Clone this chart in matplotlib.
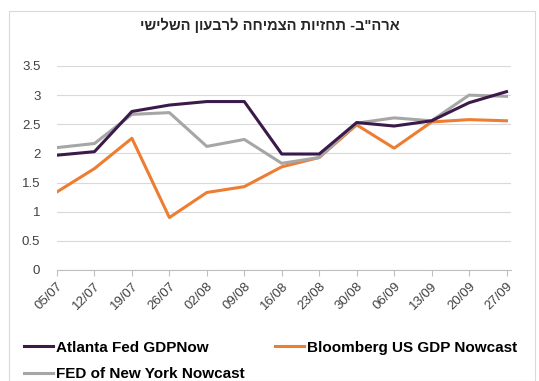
import numpy as np
import matplotlib
matplotlib.use('Agg')
import matplotlib.pyplot as plt
from matplotlib.patches import Rectangle

plt.rcParams['font.family'] = ['Liberation Sans', 'DejaVu Sans']

# datos
fechas = ['05/07', '12/07', '19/07', '26/07', '02/08', '09/08', '16/08',
          '23/08', '30/08', '06/09', '13/09', '20/09', '27/09']
atlanta = [1.97, 2.03, 2.72, 2.83, 2.89, 2.89, 1.99, 1.99, 2.53, 2.47, 2.56, 2.87, 3.06]
bloomberg = [1.34, 1.74, 2.26, 0.90, 1.33, 1.43, 1.77, 1.93, 2.49, 2.09, 2.54, 2.58, 2.56]
nyfed = [2.10, 2.17, 2.67, 2.70, 2.12, 2.24, 1.83, 1.93, 2.52, 2.61, 2.56, 3.00, 2.98]
titulo = 'ארה"ב- תחזיות הצמיחה לרבעון השלישי'

fig = plt.figure(figsize=(5.39, 3.81), dpi=100)
# marco gris del grafico
fig.patches.append(Rectangle((9 / 539, 0), 526 / 539, 1 - 11 / 381, transform=fig.transFigure,
                             fill=False, edgecolor='#d9d9d9', linewidth=0.8))

ax = fig.add_axes([57 / 539, 1 - 270 / 381, 454 / 539, 204 / 381])
x = np.arange(len(fechas))
l2, = ax.plot(x, bloomberg, color='#ed7d31', lw=2.2, label='Bloomberg US GDP Nowcast')
l3, = ax.plot(x, nyfed, color='#a6a6a6', lw=2.2, label='FED of New York Nowcast')
l1, = ax.plot(x, atlanta, color='#3b1a4a', lw=2.2, label='Atlanta Fed GDPNow')

ax.set_xlim(0, 12.12)
ax.set_ylim(0, 3.5)
ax.set_yticks(np.arange(0, 3.51, 0.5))
ax.set_yticklabels(['0', '0.5', '1', '1.5', '2', '2.5', '3', '3.5'])
ax.set_xticks(x)
ax.set_xticklabels(fechas, rotation=45, ha='right', rotation_mode='anchor')
ax.grid(axis='y', color='#d9d9d9', lw=0.8)
ax.set_axisbelow(True)
for s in ['top', 'right', 'left']:
    ax.spines[s].set_visible(False)
ax.spines['bottom'].set_color('#bfbfbf')
ax.tick_params(axis='y', length=0, labelsize=9.5, colors='#404040', pad=12)
ax.tick_params(axis='x', length=4, color='#bfbfbf', labelsize=9.5, colors='#404040', pad=3)

# hebreo: matplotlib no hace bidi, se invierte a mano
fig.text(0.5, 1 - 25 / 381, titulo[::-1], ha='center', va='center', fontsize=10.5,
         fontweight='bold', color='#262626')

fig.legend(handles=[l1, l3, l2], loc='upper left', bbox_to_anchor=(10 / 539, 1 - 327 / 381),
           ncol=2, frameon=False, handlelength=1.9, handletextpad=0.2, columnspacing=2.0,
           labelspacing=0.8, prop={'weight': 'bold', 'size': 11})

fig.savefig('out.png', dpi=100)
